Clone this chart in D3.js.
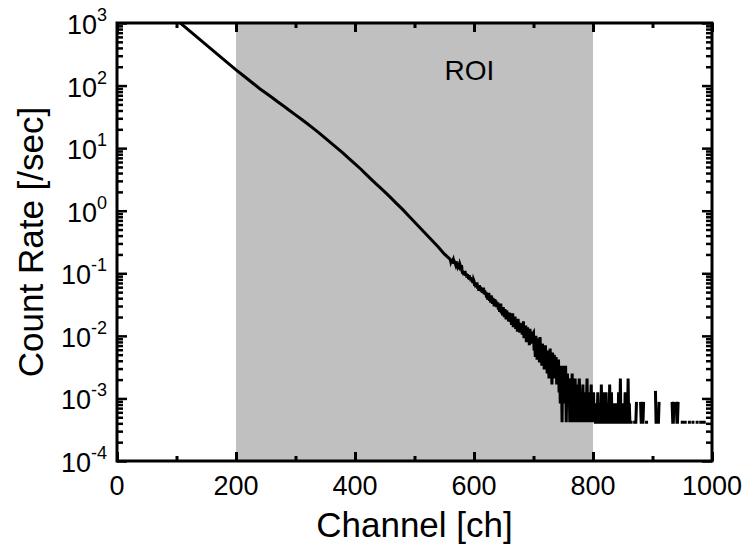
<!DOCTYPE html>
<html>
<head>
<meta charset="utf-8">
<script src="https://cdn.jsdelivr.net/npm/d3@7"></script>
<style>
  body { margin: 0; background: #fff; }
  text { font-family: "Liberation Sans", Arial, sans-serif; fill: #000; }
</style>
</head>
<body>
<svg id="chart" width="748" height="548"></svg>
<script>
// smooth upper part of the spectrum, one reading every 10 channels [/sec]
const smoothChannels = [100, 110, 120, 130, 140, 150, 160, 170, 180, 190,
  200, 210, 220, 230, 240, 250, 260, 270, 280, 290,
  300, 310, 320, 330, 340, 350, 360, 370, 380, 390,
  400, 410, 420, 430, 440, 450, 460, 470, 480, 490,
  500, 510, 520, 530, 540, 550];
const smoothRates = [1122, 933, 776, 646, 537, 447, 372, 309, 257, 214,
  178, 150, 126, 106, 89, 76, 65, 55, 47, 40,
  34, 29, 24.5, 20.7, 17.4, 14.5, 12.0, 10.0, 8.3, 6.8,
  5.6, 4.6, 3.7, 3.0, 2.45, 2.0, 1.62, 1.30, 1.05, 0.83,
  0.66, 0.525, 0.417, 0.331, 0.263, 0.204];

// noisy tail: raw counts per channel, starting at channel 560
const tailStart = 560;
const tailCounts = [
  402, 365, 391, 348, 377, 396, 341, 369, 352, 330, 371, 338, 316, 352, 327, 309, 341, 318, 296, 322,
  271, 236, 258, 224, 247, 262, 219, 238, 205, 231, 214, 196, 223, 188, 207, 179, 201, 186, 168, 192,
  181, 152, 169, 143, 158, 171, 137, 149, 126, 155, 131, 146, 122, 138, 117, 133, 141, 112, 128, 109,
  121, 98, 113, 91, 104, 117, 87, 99, 82, 106, 93, 78, 97, 85, 71, 92, 80, 88, 69, 77,
  82, 63, 75, 58, 70, 79, 55, 66, 51, 69, 60, 48, 64, 54, 44, 61, 50, 57, 41, 53,
  56, 40, 51, 36, 47, 55, 33, 44, 38, 49, 31, 42, 37, 28, 45, 34, 39, 27, 36, 31,
  38, 25, 33, 41, 22, 30, 26, 35, 19, 29, 33, 21, 27, 17, 31, 24, 18, 28, 21, 26,
  27, 14, 21, 11, 24, 17, 10, 22, 15, 19, 9, 23, 13, 16, 8, 18, 12, 15, 7, 14,
  17, 8, 12, 6, 14, 10, 5, 11, 15, 7, 10, 4, 13, 8, 6, 12, 5, 9, 11, 4,
  9, 4, 10, 3, 6, 2, 8, 5, 1, 8, 3, 7, 2, 5, 8, 1, 4, 6, 2, 5,
  4, 1, 5, 3, 2, 6, 1, 3, 4, 2, 5, 1, 3, 2, 4, 1, 3, 5, 2, 1,
  3, 1, 2, 4, 1, 2, 1, 3, 1, 2, 5, 1, 2, 1, 3, 1, 2, 4, 1, 2,
  1, 3, 1, 2, 1, 1, 2, 1, 3, 1, 1, 2, 1, 1, 4, 1, 2, 1, 1, 3,
  1, 1, 3, 1, 1, 2, 1, 1, 4, 1, 1, 3, 1, 1, 1, 2, 1, 0, 1, 2,
  1, 1, 1, 3, 1, 1, 5, 1, 1, 2, 1, 1, 0, 1, 3, 1, 1, 1, 1, 5,
  1, 2, 1, 1, 1, 0, 0, 0, 0, 0, 1, 1, 1, 2, 0, 0, 0, 0, 0, 0,
  2, 1, 1, 1, 1, 2, 0, 0, 0, 0, 1, 0, 0, 0, 0, 0, 0, 0, 0, 0,
  0, 0, 0, 0, 0, 3, 1, 1, 1, 1, 1, 2, 0, 0, 0, 0, 0, 0, 0, 0,
  0, 0, 0, 0, 0, 0, 0, 0, 0, 0, 0, 0, 0, 2, 1, 1, 2, 0, 0, 0,
  2, 1, 1, 2, 0, 0, 0, 0, 0, 0, 1, 0, 0, 0, 0, 1, 0, 0, 0, 0,
  0, 0, 1, 0, 0, 0, 0, 0, 1, 0, 0, 0, 0, 0, 0, 1, 0, 0, 0, 0,
  0, 1, 0, 0, 1, 0, 1, 1, 0, 0, 0, 0, 0, 0, 0, 0, 0, 0, 0, 0, 0
];
const liveTime = 2400; // seconds, one count = 1/liveTime per sec

const roiRange = [200, 800];
const roiLabel = 'ROI';
const xTickValues = [0, 200, 400, 600, 800, 1000];
const xMinorValues = [100, 300, 500, 700, 900];
const yExponents = [-4, -3, -2, -1, 0, 1, 2, 3];
const xTitle = 'Channel [ch]';
const yTitle = 'Count Rate [/sec]';

const width = 748, height = 548;
const margin = { top: 23, right: 36, bottom: 87, left: 117 };
const innerW = width - margin.left - margin.right;
const innerH = height - margin.top - margin.bottom;

const svg = d3.select('#chart');
const g = svg.append('g').attr('transform', `translate(${margin.left},${margin.top})`);

const x = d3.scaleLinear().domain([0, 1000]).range([0, innerW]);
const y = d3.scaleLog().domain([1e-4, 1e3]).range([innerH, 0]);

// build the spectrum
let spectrum = smoothChannels.map((c, i) => ({ ch: c, rate: smoothRates[i] }));
tailCounts.forEach((n, i) => {
  spectrum.push({ ch: tailStart + i, rate: n / liveTime });
});

g.append('clipPath').attr('id', 'plot-clip')
  .append('rect').attr('width', innerW).attr('height', innerH);

// region of interest
g.append('rect')
  .attr('x', x(roiRange[0]))
  .attr('y', 0)
  .attr('width', x(roiRange[1]) - x(roiRange[0]))
  .attr('height', innerH)
  .attr('fill', '#c0c0c0');

g.append('text')
  .attr('x', x((roiRange[0] + roiRange[1]) / 2) + 55)
  .attr('y', 57)
  .attr('text-anchor', 'middle')
  .style('font-size', '28px')
  .text(roiLabel);

const line = d3.line()
  .defined(d => d.rate > 0)
  .x(d => x(d.ch))
  .y(d => y(d.rate));

g.append('path')
  .datum(spectrum)
  .attr('clip-path', 'url(#plot-clip)')
  .attr('fill', 'none')
  .attr('stroke', '#000')
  .attr('stroke-width', 3)
  .attr('stroke-linejoin', 'miter')
  .attr('stroke-linecap', 'square')
  .attr('d', line);

// ticks, all pointing inward and mirrored on top/right
const yMajor = yExponents.map(e => Math.pow(10, e));
const yMinor = y.ticks().filter(v => Math.abs(Math.log10(v) - Math.round(Math.log10(v))) > 1e-6);

function styleTicks(sel, w) {
  sel.select('.domain').remove();
  sel.selectAll('.tick line').attr('stroke', '#000').attr('stroke-width', w);
  sel.selectAll('.tick text').remove();
}

g.append('g').attr('transform', `translate(0,${innerH})`)
  .call(d3.axisBottom(x).tickValues(xTickValues).tickSize(-9)).call(styleTicks, 3);
g.append('g').attr('transform', `translate(0,${innerH})`)
  .call(d3.axisBottom(x).tickValues(xMinorValues).tickSize(-5)).call(styleTicks, 3);
g.append('g')
  .call(d3.axisTop(x).tickValues(xTickValues).tickSize(-9)).call(styleTicks, 3);
g.append('g')
  .call(d3.axisTop(x).tickValues(xMinorValues).tickSize(-5)).call(styleTicks, 3);

g.append('g')
  .call(d3.axisLeft(y).tickValues(yMajor).tickSize(-10)).call(styleTicks, 2.5);
g.append('g')
  .call(d3.axisLeft(y).tickValues(yMinor).tickSize(-6)).call(styleTicks, 2.5);
g.append('g').attr('transform', `translate(${innerW},0)`)
  .call(d3.axisRight(y).tickValues(yMajor).tickSize(-10)).call(styleTicks, 2.5);
g.append('g').attr('transform', `translate(${innerW},0)`)
  .call(d3.axisRight(y).tickValues(yMinor).tickSize(-6)).call(styleTicks, 2.5);

// frame
g.append('rect')
  .attr('width', innerW).attr('height', innerH)
  .attr('fill', 'none').attr('stroke', '#000').attr('stroke-width', 3);

// tick labels
g.selectAll('.xlabel').data(xTickValues).join('text')
  .attr('class', 'xlabel')
  .attr('x', d => x(d))
  .attr('y', innerH + 34)
  .attr('text-anchor', 'middle')
  .style('font-size', '27px')
  .text(d => d);

const yl = g.selectAll('.ylabel').data(yExponents).join('text')
  .attr('class', 'ylabel')
  .attr('x', -10)
  .attr('y', d => y(Math.pow(10, d)) + 11)
  .attr('text-anchor', 'end')
  .style('font-size', '27px');
yl.append('tspan').text('10');
yl.append('tspan')
  .attr('dy', -13)
  .style('font-size', '18px')
  .text(d => d);

// axis titles
g.append('text')
  .attr('x', innerW / 2)
  .attr('y', innerH + 76)
  .attr('text-anchor', 'middle')
  .style('font-size', '35px')
  .text(xTitle);

g.append('text')
  .attr('transform', `translate(${-margin.left + 43},${innerH / 2}) rotate(-90)`)
  .attr('text-anchor', 'middle')
  .style('font-size', '35px')
  .text(yTitle);
</script>
</body>
</html>
